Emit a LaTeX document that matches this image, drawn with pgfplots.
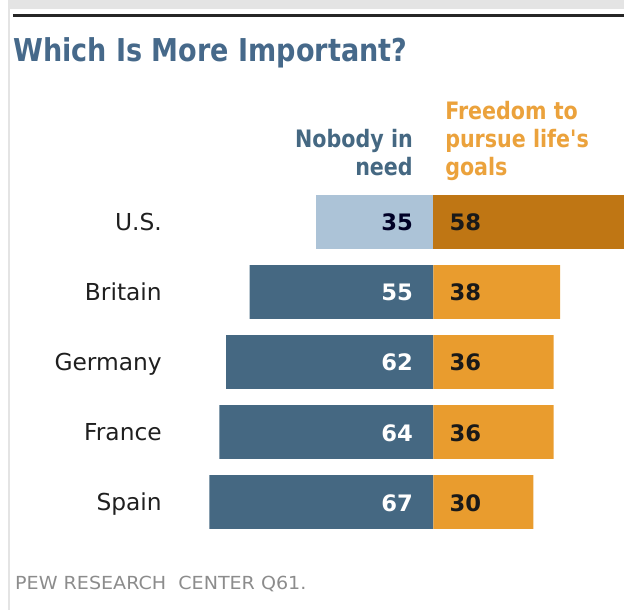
\documentclass[border=0pt]{standalone}
\usepackage{pgfplots}
\pgfplotsset{compat=1.18}
\usepackage{fontspec}
\setmainfont{DejaVu Sans}
\newfontfamily\condfont[FakeStretch=0.86]{DejaVu Sans}
\newfontfamily\widefont[FakeStretch=1.06]{DejaVu Sans}
\definecolor{darkblue}{HTML}{456882}
\definecolor{lightblue}{HTML}{ACC3D7}
\definecolor{orange}{HTML}{E99C2E}
\definecolor{darkorange}{HTML}{BF7614}
\definecolor{titleblue}{HTML}{46698A}
\definecolor{headorange}{HTML}{EBA23C}
\definecolor{footgray}{HTML}{8C8C8C}
\definecolor{framegray}{HTML}{E4E4E4}
\begin{document}
\begin{tikzpicture}
\begin{axis}[
  width=468pt, height=457.5pt, scale only axis,
  hide axis,
  xmin=-129.7, xmax=57.1,
  ymin=-5.543, ymax=3.171,
]
% frame
\fill[framegray] (rel axis cs:0.0128,1) rectangle (rel axis cs:1,0.9852);
\fill[framegray] (rel axis cs:0.0128,0.9852) rectangle (rel axis cs:0.0160,0);
\draw[black!85, line width=2.2pt] (rel axis cs:0.0208,0.9746) -- (rel axis cs:1,0.9746);
% bars
\addplot[xbar, bar width=0.77, bar shift=0pt, fill=lightblue, draw=none] coordinates {(-35,0)};
\addplot[xbar, bar width=0.77, bar shift=0pt, fill=darkblue, draw=none] coordinates {(-55,-1) (-62,-2) (-64,-3) (-67,-4)};
\addplot[xbar, bar width=0.77, bar shift=0pt, fill=darkorange, draw=none] coordinates {(58,0)};
\addplot[xbar, bar width=0.77, bar shift=0pt, fill=orange, draw=none] coordinates {(38,-1) (36,-2) (36,-3) (30,-4)};
% value labels
\begin{scope}[font=\fontsize{17}{20}\selectfont\bfseries]
\node[anchor=base east, text=black!85!blue, inner sep=0pt] at (axis cs:-6,-0.129) {35};
\node[anchor=base east, text=white, inner sep=0pt] at (axis cs:-6,-1.129) {55};
\node[anchor=base east, text=white, inner sep=0pt] at (axis cs:-6,-2.129) {62};
\node[anchor=base east, text=white, inner sep=0pt] at (axis cs:-6,-3.129) {64};
\node[anchor=base east, text=white, inner sep=0pt] at (axis cs:-6,-4.129) {67};
\node[anchor=base west, text=black!90, inner sep=0pt] at (axis cs:4.8,-0.129) {58};
\node[anchor=base west, text=black!90, inner sep=0pt] at (axis cs:4.8,-1.129) {38};
\node[anchor=base west, text=black!90, inner sep=0pt] at (axis cs:4.8,-2.129) {36};
\node[anchor=base west, text=black!90, inner sep=0pt] at (axis cs:4.8,-3.129) {36};
\node[anchor=base west, text=black!90, inner sep=0pt] at (axis cs:4.8,-4.129) {30};
\end{scope}
% country labels
\begin{scope}[font=\fontsize{17.5}{20}\selectfont, text=black!88]
\node[anchor=base east, inner sep=0pt] at (axis cs:-81.2,-0.121) {U.S.};
\node[anchor=base east, inner sep=0pt] at (axis cs:-81.2,-1.121) {Britain};
\node[anchor=base east, inner sep=0pt] at (axis cs:-81.2,-2.121) {Germany};
\node[anchor=base east, inner sep=0pt] at (axis cs:-81.2,-3.121) {France};
\node[anchor=base east, inner sep=0pt] at (axis cs:-81.2,-4.121) {Spain};
\end{scope}
% title
\node[anchor=base west, inner sep=0pt, text=titleblue, font=\condfont\bfseries\fontsize{23.6}{28}\selectfont] at (rel axis cs:0.0208,0.8984) {Which Is More Important?};
% headers
\begin{scope}[font=\condfont\bfseries\fontsize{18}{21}\selectfont]
\node[anchor=base east, inner sep=0pt, text=darkblue] at (rel axis cs:0.6619,0.7574) {Nobody in};
\node[anchor=base east, inner sep=0pt, text=darkblue] at (rel axis cs:0.6619,0.7115) {need};
\node[anchor=base west, inner sep=0pt, text=headorange] at (rel axis cs:0.7131,0.8033) {Freedom to};
\node[anchor=base west, inner sep=0pt, text=headorange] at (rel axis cs:0.7131,0.7574) {pursue life's};
\node[anchor=base west, inner sep=0pt, text=headorange] at (rel axis cs:0.7131,0.7115) {goals};
\end{scope}
% footer
\node[anchor=base west, inner sep=0pt, text=footgray, font=\widefont\fontsize{13.5}{16}\selectfont] at (rel axis cs:0.024,0.0328) {PEW RESEARCH\ \ CENTER Q61.};
\end{axis}
\pgfresetboundingbox
\path[use as bounding box] (current axis.south west) rectangle (current axis.north east);
\end{tikzpicture}
\end{document}
